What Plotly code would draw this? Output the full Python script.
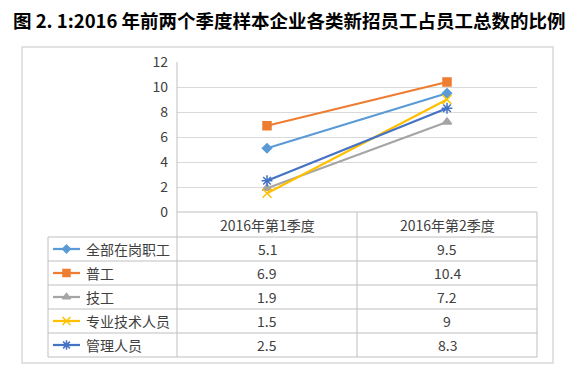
import plotly.graph_objects as go

title = "图 2. 1:2016 年前两个季度样本企业各类新招员工占员工总数的比例"
categories = ["2016年第1季度", "2016年第2季度"]
series_names = ["全部在岗职工", "普工", "技工", "专业技术人员", "管理人员"]
series_values = [
    [5.1, 9.5],
    [6.9, 10.4],
    [1.9, 7.2],
    [1.5, 9],
    [2.5, 8.3],
]
value_labels = [["5.1", "9.5"], ["6.9", "10.4"], ["1.9", "7.2"], ["1.5", "9"], ["2.5", "8.3"]]
y_ticks = [0, 2, 4, 6, 8, 10, 12]

colors = ["#5B9BD5", "#ED7D31", "#A5A5A5", "#FFC000", "#4472C4"]
symbols = ["diamond", "square", "triangle-up", "x-thin-open", "asterisk-open"]
msizes = [7, 8, 8, 9, 9]

W, H = 578, 377
FONT = "Noto Sans CJK SC, Open Sans, sans-serif"
GRID = "#d9d9d9"
TBL = "#bfbfbf"
TXT = "#404040"

# layout in pixels
plot_l, plot_r, plot_t, plot_b = 177, 537, 62, 212
tbl_l = 48
hdr_b = 237
row_h = 24
mid = (plot_l + plot_r) / 2

fig = go.Figure()

for i, name in enumerate(series_names):
    fig.add_trace(go.Scatter(
        x=categories, y=series_values[i], mode="lines+markers", name=name,
        line=dict(color=colors[i], width=2.25),
        marker=dict(symbol=symbols[i], size=msizes[i], color=colors[i],
                    line=dict(color=colors[i], width=1.5)),
        showlegend=False, xaxis="x", yaxis="y", cliponaxis=False,
    ))

# legend keys inside the table (pixel-space axis)
for i, name in enumerate(series_names):
    cy = hdr_b + row_h * i + row_h / 2
    fig.add_trace(go.Scatter(
        x=[53, 80], y=[cy, cy], mode="lines", line=dict(color=colors[i], width=2.25),
        showlegend=False, hoverinfo="skip", xaxis="x2", yaxis="y2"))
    fig.add_trace(go.Scatter(
        x=[66.5], y=[cy], mode="markers",
        marker=dict(symbol=symbols[i], size=msizes[i] - 1, color=colors[i],
                    line=dict(color=colors[i], width=1.5)),
        showlegend=False, hoverinfo="skip", xaxis="x2", yaxis="y2"))

shapes = []
# outer border
shapes.append(dict(type="rect", xref="x2", yref="y2", x0=22, x1=553, y0=47, y1=363,
                   line=dict(color="#d9d9d9", width=1.5)))
# table horizontal lines
n = len(series_names)
shapes.append(dict(type="line", xref="x2", yref="y2", x0=plot_l, x1=plot_r, y0=plot_b, y1=plot_b,
                   line=dict(color=TBL, width=1)))
for k in range(n + 1):
    y = hdr_b + row_h * k
    shapes.append(dict(type="line", xref="x2", yref="y2", x0=tbl_l, x1=plot_r, y0=y, y1=y,
                       line=dict(color=TBL, width=1)))
tbl_bottom = hdr_b + row_h * n
# vertical lines
for x, y0 in [(tbl_l, hdr_b), (plot_l, plot_t), (mid, plot_b), (plot_r, plot_b)]:
    shapes.append(dict(type="line", xref="x2", yref="y2", x0=x, x1=x, y0=y0, y1=tbl_bottom,
                       line=dict(color=TBL, width=1)))

annotations = []
annotations.append(dict(text="<b>" + title + "</b>", xref="x2", yref="y2", x=289, y=20,
                        showarrow=False, font=dict(family=FONT, size=18.5, color="#000000"),
                        xanchor="center", yanchor="middle"))
col_centers = [plot_l + (plot_r - plot_l) / 4, plot_l + 3 * (plot_r - plot_l) / 4]
for j, c in enumerate(categories):
    annotations.append(dict(text=c, xref="x2", yref="y2", x=col_centers[j], y=(plot_b + hdr_b) / 2,
                            showarrow=False, font=dict(family=FONT, size=14, color=TXT),
                            xanchor="center", yanchor="middle"))
for i, name in enumerate(series_names):
    cy = hdr_b + row_h * i + row_h / 2
    annotations.append(dict(text=name, xref="x2", yref="y2", x=84, y=cy,
                            showarrow=False, font=dict(family=FONT, size=14, color=TXT),
                            xanchor="left", yanchor="middle"))
    for j in range(len(categories)):
        annotations.append(dict(text=value_labels[i][j], xref="x2", yref="y2",
                                x=col_centers[j], y=cy, showarrow=False,
                                font=dict(family=FONT, size=14, color=TXT),
                                xanchor="center", yanchor="middle"))

fig.update_layout(
    template="none",
    width=W, height=H, margin=dict(l=0, r=0, t=0, b=0, pad=0, autoexpand=False),
    paper_bgcolor="white", plot_bgcolor="rgba(0,0,0,0)",
    font=dict(family=FONT, size=14, color="#595959"),
    xaxis=dict(domain=[plot_l / W, plot_r / W], type="category", range=[-0.5, 1.5],
               showticklabels=False, showgrid=False, zeroline=False, showline=False, ticks="",
               anchor="y", automargin=False),
    yaxis=dict(domain=[1 - plot_b / H, 1 - plot_t / H], range=[0, 12], tickvals=y_ticks,
               showgrid=True, gridcolor=GRID, gridwidth=1, zeroline=False, showline=False,
               ticks="", ticklabelstandoff=8, tickfont=dict(size=14, color=TXT), anchor="x",
               automargin=False),
    xaxis2=dict(domain=[0, 1], range=[0, W], visible=False, fixedrange=True, anchor="y2",
                automargin=False),
    yaxis2=dict(domain=[0, 1], range=[H, 0], visible=False, fixedrange=True, anchor="x2",
                automargin=False),
    shapes=shapes, annotations=annotations,
)

fig.write_html("out.html", config={"displayModeBar": False},
               post_script="document.body.style.margin='0';")
